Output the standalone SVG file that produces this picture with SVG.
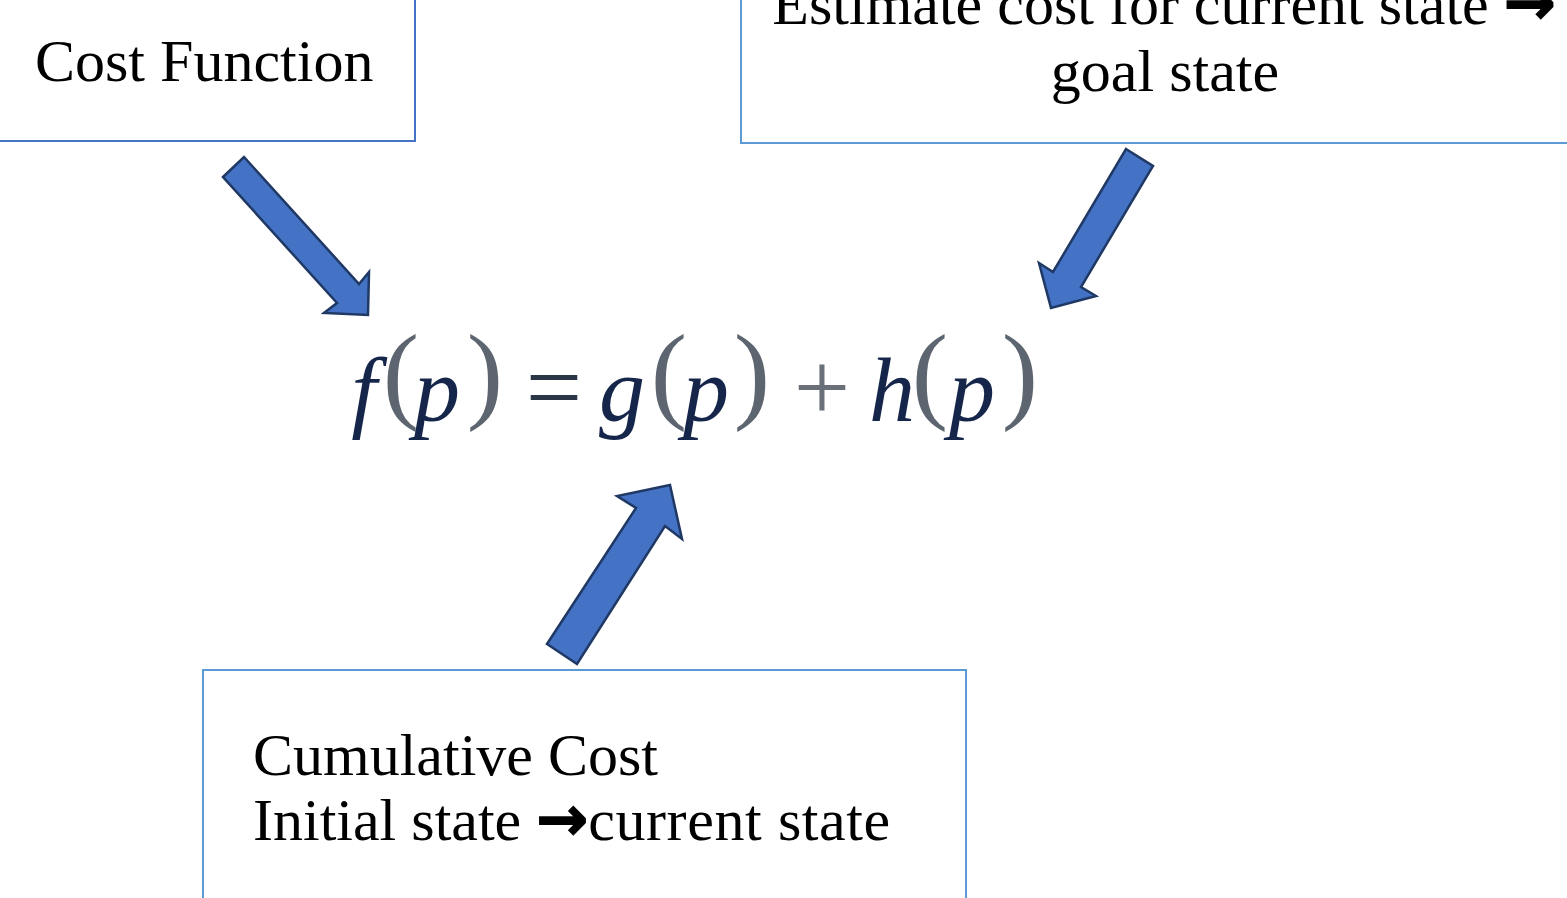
<svg xmlns="http://www.w3.org/2000/svg" width="1567" height="898" viewBox="0 0 1567 898">
<style>
.box{fill:#ffffff;stroke-width:2}
.b1{stroke:#4472C4}
.b2{stroke:#5B9BD5}
.lbl{font-family:"Liberation Serif","DejaVu Serif",serif;font-size:60px;fill:#000}
.arw{font-family:"DejaVu Sans",sans-serif;font-weight:bold;font-size:62px;stroke:#000;stroke-width:1.5}
.blk{fill:#4472C4;stroke:#1F3864;stroke-width:2.5;stroke-linejoin:miter}
.it{font-family:"Liberation Serif",serif;font-style:italic;font-size:92px;fill:#15264a;text-anchor:middle}
.par{font-family:"Liberation Serif",serif;font-size:109px;fill:#5d6670;text-anchor:middle}
.op{font-family:"Liberation Serif",serif;font-size:100px;text-anchor:middle}
</style>
<rect width="1567" height="898" fill="#ffffff"/>
<g id="node-cost-function">
<rect class="box b1" x="-10" y="-10" width="425" height="151"/>
<text class="lbl" x="35" y="81">Cost Function</text>
</g>
<g id="node-estimate">
<rect class="box b2" x="741" y="-10" width="850" height="153"/>
<text class="lbl" x="1164" y="24" text-anchor="middle">Estimate cost for current state <tspan class="arw">→</tspan></text>
<text class="lbl" x="1165" y="91" text-anchor="middle">goal state</text>
</g>
<g id="node-cumulative">
<rect class="box b2" x="203" y="670" width="763" height="240"/>
<text class="lbl" x="253" y="775">Cumulative Cost</text>
<text class="lbl" x="253" y="840">Initial state <tspan class="arw">→</tspan><tspan letter-spacing="0.6">current state</tspan></text>
</g>
<g id="node-formula">
<text class="it" x="364" y="421">f</text>
<text class="par" x="401" y="409">(</text>
<text class="it" x="437" y="421">p</text>
<text class="par" x="485" y="409">)</text>
<text class="op" x="554" y="421" fill="#2a3545">=</text>
<text class="it" x="622" y="421">g</text>
<text class="par" x="669" y="409">(</text>
<text class="it" x="706" y="421">p</text>
<text class="par" x="752" y="409">)</text>
<text class="op" x="822" y="421" fill="#6a7078">+</text>
<text class="it" x="892" y="421">h</text>
<text class="par" x="930" y="409">(</text>
<text class="it" x="972" y="421">p</text>
<text class="par" x="1020" y="409">)</text>
</g>
<g id="connectors">
<polygon class="blk" points="223,177 244,157 359,284 369,272 368,315 324,313 337,303"/>
<polygon class="blk" points="1126,149 1153,166 1081,287 1096,296 1051,308 1039,263 1053,272"/>
<polygon class="blk" points="547,644 577,664 665,526 682,539 670,485 617,496 636,508"/>
</g>
</svg>
